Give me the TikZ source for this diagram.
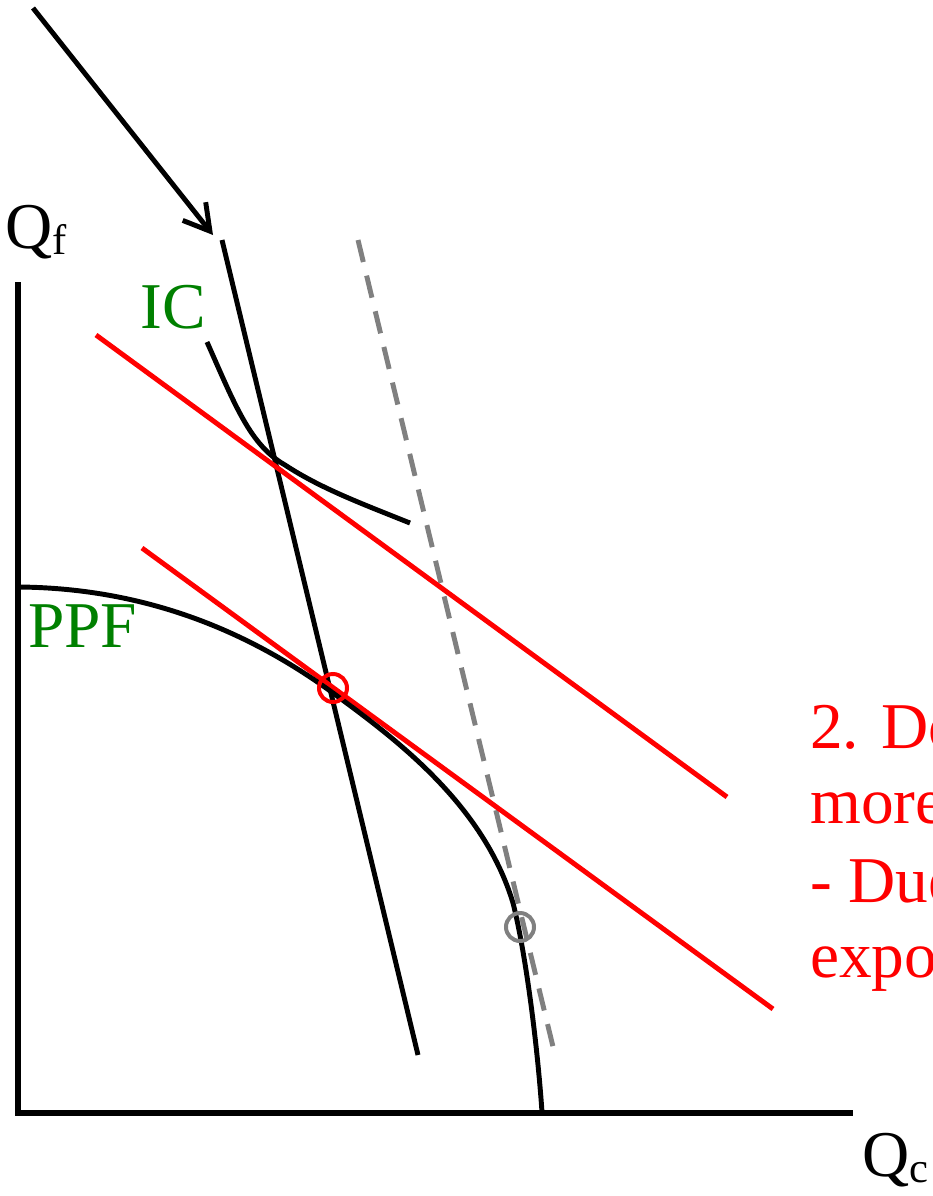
\documentclass[tikz,border=0pt]{standalone}
\usepackage{fontspec}
\setmainfont{Liberation Serif}
\usetikzlibrary{arrows.meta}
\definecolor{ecogreen}{RGB}{0,128,0}
\definecolor{ecogray}{RGB}{128,128,128}
\definecolor{ecored}{RGB}{255,0,0}
\tikzset{
  curve/.style={line width=3.7pt, black},
  redline/.style={line width=3.7pt, ecored},
  grayline/.style={line width=3.7pt, ecogray, dash pattern=on 17pt off 10.5pt},
  lbl/.style={inner sep=0pt, anchor=base west, font=\fontsize{49}{57}\selectfont},
  marker/.style={circle, draw, line width=3pt, minimum size=21pt, inner sep=0pt},
}
\begin{document}
\begin{tikzpicture}[x=0.75pt,y=-0.75pt]
\useasboundingbox (0,0) rectangle (932,1196);
\clip (0,0) rectangle (932,1196);
% coordinates
\coordinate (ytop) at (18,285);
\coordinate (orig) at (18,1113);
\coordinate (xend) at (850,1113);
\coordinate (arS) at (33,8);
\coordinate (arE) at (213,235);
\coordinate (bT) at (222,240);
\coordinate (bB) at (418,1055);
\coordinate (gT) at (358,240);
\coordinate (gB) at (555,1055);
\coordinate (r1a) at (96,335);
\coordinate (r1b) at (727,797);
\coordinate (r2a) at (142,548);
\coordinate (r2b) at (773,1009);
% axes
\draw[curve, line width=4pt, line cap=rect] (ytop) -- (orig) -- (xend);
% arrow
\draw[curve, -{Straight Barb[length=19pt,width=22pt,line width=3.7pt]}] (arS) -- (arE);
% steep black line
\draw[curve] (bT) -- (bB);
% dashed gray line
\draw[grayline] (gT) -- (gB);
% IC curve
\draw[curve] (207,342) .. controls (235,405) and (250,445) .. (285,465)
  .. controls (320,488) and (360,503) .. (410,523);
% red lines
\draw[redline] (r1a) -- (r1b);
\draw[redline] (r2a) -- (r2b);
% PPF
\draw[curve] (18,587) .. controls (160,588) and (263,642) .. (333,693)
  .. controls (393,737) and (483,803) .. (513,903)
  .. controls (525,950) and (537,1040) .. (542,1112);
% markers
\node[marker, draw=ecored] (eqd) at (333,688) {};
\node[marker, draw=ecogray] (eqg) at (520,927) {};
% labels
\node[lbl] (qf) at (5,248) {Q\raisebox{-4.5pt}{\fontsize{32}{32}\selectfont f}};
\node[lbl] (qc) at (862,1176) {Q\raisebox{-4.5pt}{\fontsize{32}{32}\selectfont c}};
\node[lbl, text=ecogreen] (ic) at (140,328) {IC};
\node[lbl, text=ecogreen] (ppf) at (28,647) {PPF};
\node[lbl, text=ecored] (t1) at (810,748) {2. Do};
\node[lbl, text=ecored] (t2) at (810,823) {more};
\node[lbl, text=ecored] (t3) at (810,902) {- Due};
\node[lbl, text=ecored] (t4) at (810,977) {expo};
\end{tikzpicture}
\end{document}
